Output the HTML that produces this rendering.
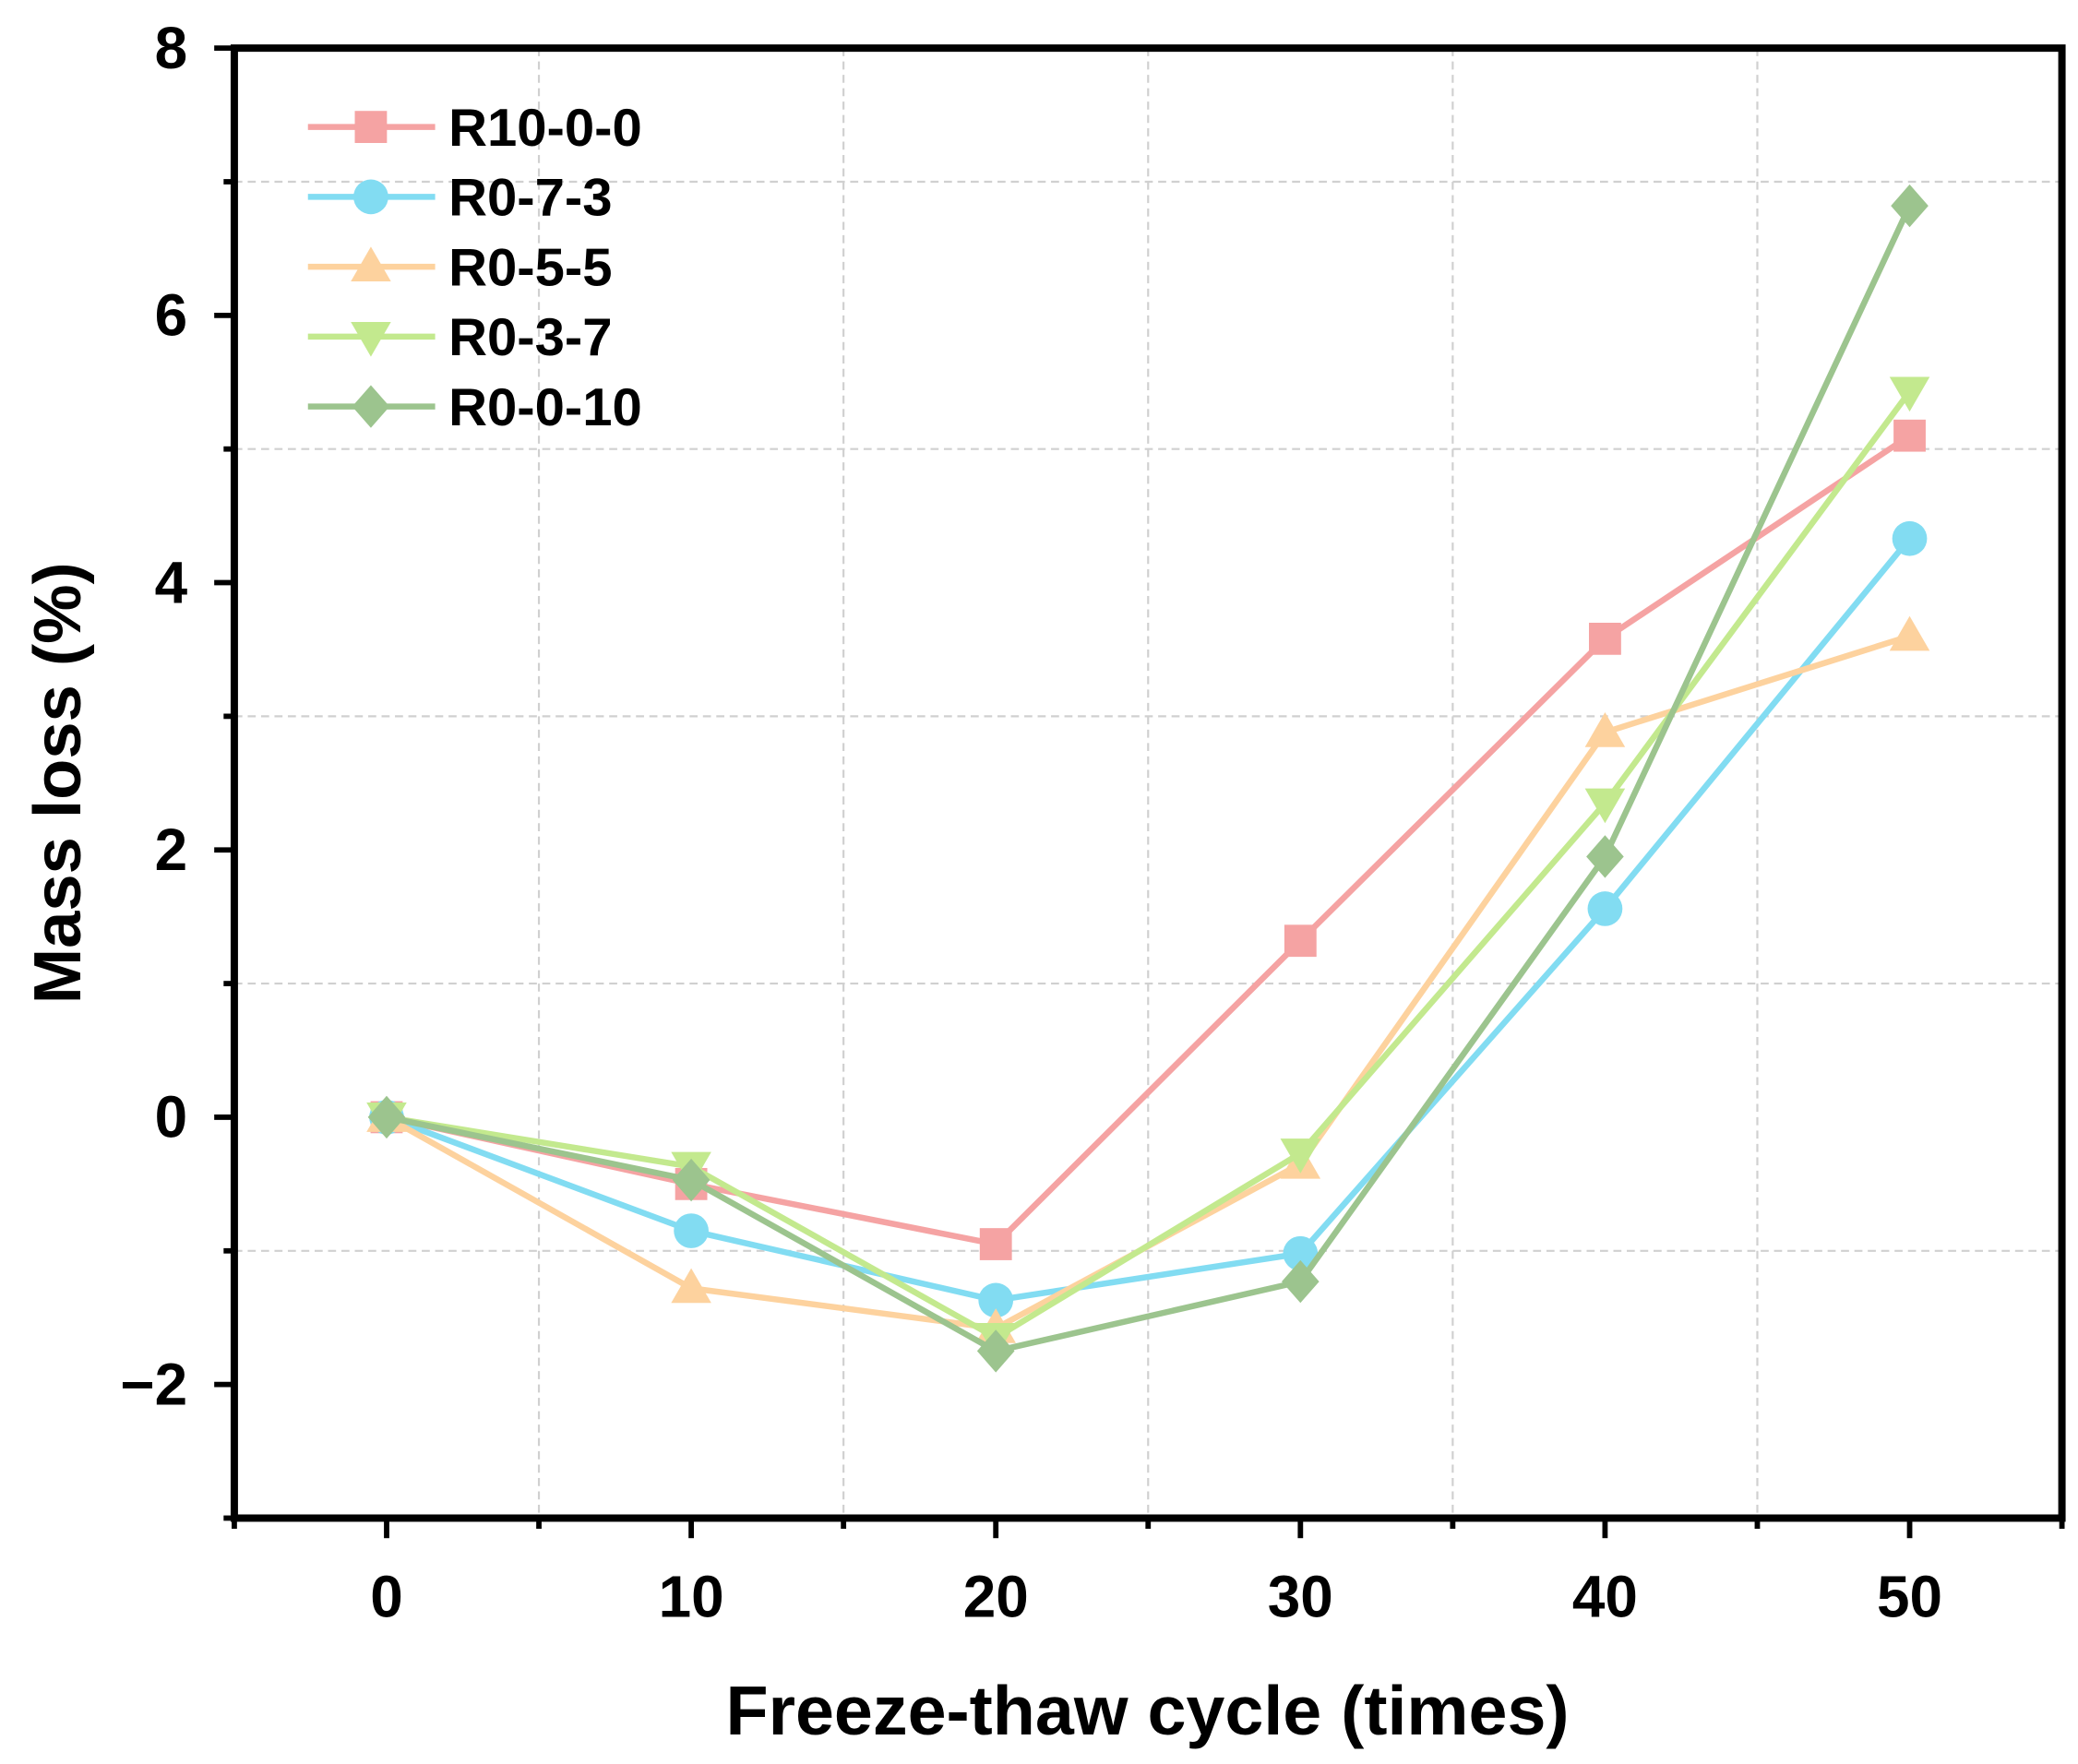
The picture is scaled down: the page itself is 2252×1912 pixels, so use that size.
<!DOCTYPE html>
<html><head><meta charset="utf-8"><style>
html,body{margin:0;padding:0;background:#fff;}
svg{display:block;}
text{font-family:"Liberation Sans",Arial,sans-serif;font-weight:bold;fill:#000;}
</style></head><body>
<svg id="chart" width="2252" height="1912" viewBox="0 0 1552 1320" preserveAspectRatio="none" xmlns="http://www.w3.org/2000/svg">
<g id="grid"></g>
<g id="series"></g>
<rect x="175" y="36" width="1365" height="1100" fill="none" stroke="#000" stroke-width="5.5"/>
<g id="axes"></g>
<g id="legend"></g>
<text x="857" y="1298" font-size="52" text-anchor="middle">Freeze-thaw cycle (times)</text>
<text transform="translate(60,586) rotate(-90)" font-size="50" text-anchor="middle">Mass loss (%)</text>
</svg>
<script>
const categories=[0,10,20,30,40,50];
const seriesNames=["R10-0-0","R0-7-3","R0-5-5","R0-3-7","R0-0-10"];
const sR10=[0,-0.5,-0.95,1.32,3.58,5.1];
const sR073=[0,-0.85,-1.37,-1.02,1.56,4.33];
const sR055=[0,-1.28,-1.58,-0.35,2.88,3.6];
const sR037=[0,-0.37,-1.65,-0.27,2.35,5.43];
const sR0010=[0,-0.47,-1.75,-1.23,1.95,6.82];
const yTicks=[-2,0,2,4,6,8];
const xTicks=[0,10,20,30,40,50];
const colors=["#f5a3a3","#82dcf2","#fdd29e","#c3e98e","#9cc48e"];
const markers=["square","circle","up","down","diamond"];
const allSeries=[sR10,sR073,sR055,sR037,sR0010];
const NS="http://www.w3.org/2000/svg";
const X=v=>175+(v+5)/60*1365;
const Y=v=>36+(8-v)/11*1100;
function mk(tag,attrs,parent){const e=document.createElementNS(NS,tag);for(const k in attrs)e.setAttribute(k,attrs[k]);parent.appendChild(e);return e;}
const grid=document.getElementById('grid'),axes=document.getElementById('axes'),ser=document.getElementById('series'),leg=document.getElementById('legend');
for(let v=5;v<55;v+=10){const l=mk('line',{x1:X(v),x2:X(v),y1:36,y2:1136,stroke:'#d0d0d0','stroke-width':1.5,'stroke-dasharray':'6,4'},grid);

}
for(let v=-1;v<8;v+=2){const l=mk('line',{x1:175,x2:1540,y1:Y(v),y2:Y(v),stroke:'#d0d0d0','stroke-width':1.5,'stroke-dasharray':'6,4'},grid);

}
for(let v=-3;v<=8;v++){const major=v%2===0;const t=mk('line',{x1:175,x2:major?160:167,y1:Y(v),y2:Y(v),stroke:'#000','stroke-width':4},axes);

}
yTicks.forEach(v=>{const t=mk('text',{x:140,y:Y(v)+15,'font-size':44,'text-anchor':'end'},axes);t.textContent=v<0?'\u2212'+(-v):String(v);

});
for(let v=-5;v<=55;v+=5){const major=v%10===0;const t=mk('line',{x1:X(v),x2:X(v),y1:1136,y2:major?1151:1144,stroke:'#000','stroke-width':4},axes);

}
xTicks.forEach(v=>{const t=mk('text',{x:X(v),y:1210,'font-size':44,'text-anchor':'middle'},axes);t.textContent=String(v);

});
function marker(type,cx,cy,color,parent){let e;const r=13;
if(type==='square')e=mk('rect',{x:cx-r+1,y:cy-r+1,width:2*r-2,height:2*r-2,fill:color},parent);
else if(type==='circle')e=mk('circle',{cx:cx,cy:cy,r:r,fill:color},parent);
else if(type==='up')e=mk('polygon',{points:`${cx},${cy-r-2} ${cx-r-2},${cy+r-2} ${cx+r+2},${cy+r-2}`,fill:color},parent);
else if(type==='down')e=mk('polygon',{points:`${cx},${cy+r+2} ${cx-r-2},${cy-r+2} ${cx+r+2},${cy-r+2}`,fill:color},parent);
else e=mk('polygon',{points:`${cx},${cy-r-3} ${cx+r+1},${cy} ${cx},${cy+r+3} ${cx-r-1},${cy}`,fill:color},parent);
return e;}
allSeries.forEach((s,i)=>{const g=mk('g',{},ser);


const pl=mk('polyline',{points:s.map((v,j)=>X(categories[j])+','+Y(v)).join(' '),fill:'none',stroke:colors[i],'stroke-width':4.5},g);


s.forEach((v,j)=>{const m=marker(markers[i],X(categories[j]),Y(v),colors[i],g);

});
const ly=95+i*52.3;const lg=mk('g',{},leg);


mk('line',{x1:230,x2:325,y1:ly,y2:ly,stroke:colors[i],'stroke-width':4.5},lg);
marker(markers[i],277,ly,colors[i],lg);
const t=mk('text',{x:335,y:ly+14,'font-size':40},lg);t.textContent=seriesNames[i];});
</script>
</body></html>
